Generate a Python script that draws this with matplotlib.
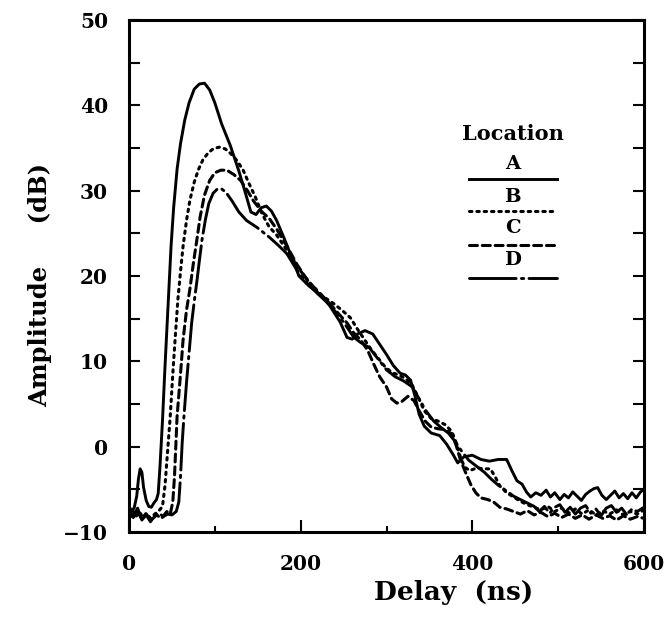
import matplotlib
matplotlib.use("Agg")
import matplotlib.pyplot as plt
from matplotlib.ticker import MultipleLocator

# ---------------- data ----------------
a_x = [0, 3, 6, 9, 11, 13, 15, 17, 20, 23, 26, 29, 32, 34, 36, 39, 42, 45, 47, 49, 52, 56, 60, 65, 70, 76, 82, 88, 94, 100,
       108, 118, 128, 136, 142, 148, 154, 160, 166, 172, 180, 188, 198, 210, 222, 234, 246, 254, 260, 266, 275, 284, 292,
       300, 308, 316, 322, 328, 333, 338, 344, 352, 362, 370, 378, 383, 390, 400, 410, 420, 430, 440, 446, 452, 458, 463,
       468, 474, 480, 486, 491, 496, 502, 507, 512, 517, 522, 527, 532, 537, 542, 546, 551, 556, 561, 566, 571, 576, 581,
       586, 591, 596, 600]
a_y = [-7.0, -7.5, -7.2, -5.8, -3.8, -2.6, -3.0, -4.8, -6.3, -7.0, -7.1, -6.6, -6.2, -5.5, -2.5, 3.0, 9.5, 15.5, 19.5,
       23.5, 28.0, 32.5, 35.5, 38.3, 40.3, 41.9, 42.5, 42.6, 41.8, 40.3, 37.8, 35.3, 32.3, 29.6, 27.5, 27.2, 28.0, 28.2,
       27.6, 26.5, 24.6, 22.6, 20.0, 18.8, 17.9, 16.5, 14.6, 12.8, 12.6, 13.2, 13.6, 13.2, 12.0, 10.8, 9.5, 8.6, 8.4, 7.8,
       6.0, 3.8, 2.4, 1.6, 1.3, 0.3, -1.0, -1.9, -1.2, -1.0, -1.5, -1.7, -1.5, -1.5, -2.8, -4.0, -4.4, -5.3, -5.9, -5.4,
       -5.7, -5.1, -5.9, -5.4, -6.2, -5.6, -6.0, -5.3, -5.8, -6.3, -5.6, -5.2, -4.9, -4.8, -5.7, -6.2, -5.7, -5.2, -6.0,
       -5.5, -6.1, -5.4, -6.0, -5.3, -5.0]

b_x = [0, 4, 8, 12, 16, 20, 25, 30, 35, 39, 42, 45, 48, 51, 54, 57, 60, 63, 67, 71, 76, 81, 86, 92, 98, 105, 112, 118,
       126, 133, 140, 147, 155, 163, 172, 182, 192, 202, 214, 226, 238, 248, 258, 266, 274, 282, 290, 298, 306, 314, 322,
       330, 337, 344, 352, 360, 368, 376, 381, 386, 391, 397, 405, 414, 421, 427, 432, 440, 448, 456, 464, 472, 480, 488,
       496, 504, 512, 520, 528, 536, 544, 552, 560, 568, 576, 584, 592, 600]
b_y = [-8.0, -7.4, -8.2, -7.6, -8.3, -7.8, -8.4, -7.9, -7.5, -7.0, -4.5, -0.5, 3.5, 8.5, 13.0, 17.3, 20.5, 23.5, 26.5,
       28.9, 31.0, 32.5, 33.6, 34.4, 34.9, 35.1, 34.9, 34.4, 33.5, 32.4, 30.8, 29.3, 27.3, 25.8, 24.8, 23.3, 21.8, 20.3,
       18.8, 17.6, 16.8, 16.0, 15.1, 13.8, 12.6, 11.4, 10.4, 9.4, 8.7, 8.4, 8.0, 7.2, 5.8, 4.2, 3.3, 3.0, 2.6, 1.8, 0.5,
       -1.2, -2.4, -2.8, -2.5, -2.6, -2.6, -3.6, -4.6, -5.4, -5.9, -6.4, -6.8, -7.1, -7.4, -7.0, -7.6, -7.2, -7.8, -7.3,
       -7.9, -7.4, -8.0, -7.5, -7.9, -7.4, -8.0, -7.6, -7.9, -7.4]

c_x = [0, 5, 10, 15, 20, 26, 32, 38, 44, 48, 51, 53, 56, 60, 63, 67, 71, 75, 79, 83, 88, 94, 100, 107, 114, 122, 130,
       138, 145, 155, 163, 172, 184, 196, 208, 220, 232, 244, 254, 262, 270, 278, 285, 292, 300, 306, 312, 318, 325, 332,
       338, 345, 352, 360, 368, 376, 381, 386, 392, 398, 404, 410, 418, 425, 432, 440, 448, 456, 464, 472, 480, 488, 496,
       504, 512, 520, 528, 536, 544, 552, 560, 568, 576, 584, 592, 600]
c_y = [-7.8, -8.3, -7.6, -8.5, -7.9, -8.6, -8.0, -8.4, -7.6, -7.9, -6.5, -3.5, 3.5, 8.5, 12.5, 16.0, 18.5, 21.5, 24.2,
       27.0, 29.5, 31.2, 32.1, 32.4, 32.4, 31.9, 31.2, 30.0, 28.8, 27.5, 26.8, 25.5, 23.5, 21.3, 19.5, 18.2, 17.0, 15.6,
       14.5, 13.3, 12.5, 11.3, 9.7, 8.2, 7.0, 5.6, 5.1, 5.3, 5.9, 5.4, 4.2, 3.0, 2.3, 2.1, 2.0, 1.5, 0.2, -1.5, -3.0,
       -4.4, -5.4, -6.0, -6.2, -6.5, -7.1, -7.3, -7.6, -7.9, -7.5, -8.0, -7.7, -8.2, -7.8, -8.3, -7.9, -8.4, -8.0, -8.5,
       -8.0, -8.4, -8.1, -8.6, -8.1, -8.5, -8.2, -8.4]

d_x = [0, 5, 10, 15, 20, 25, 30, 35, 40, 45, 50, 55, 58, 60, 62, 64, 67, 70, 73, 76, 79, 82, 85, 89, 93, 98, 103, 108,
       113, 120, 128, 137, 149, 164, 175, 184, 195, 207, 220, 232, 244, 254, 262, 270, 280, 290, 300, 310, 320, 330, 338,
       346, 355, 364, 372, 380, 388, 396, 405, 414, 422, 430, 440, 448, 456, 464, 472, 478, 484, 490, 496, 502, 508, 514,
       520, 526, 532, 538, 544, 550, 556, 562, 568, 574, 580, 586, 592, 600]
d_y = [-7.5, -8.2, -7.2, -8.6, -8.0, -8.8, -8.1, -7.8, -8.2, -7.9, -8.0, -7.6, -6.5, -3.5, 0.5, 3.5, 7.5, 11.0, 14.5,
       17.0, 19.3, 21.8, 24.2, 26.6, 28.5, 29.7, 30.2, 30.2, 29.8, 28.8, 27.5, 26.5, 25.7, 24.5, 23.5, 22.6, 20.8, 19.2,
       17.9, 16.8, 15.4, 14.0, 12.8, 12.2, 11.6, 10.3, 9.0, 8.2, 7.7, 7.0, 5.6, 4.2, 3.0, 2.2, 1.6, 0.6, -0.6, -1.6, -2.3,
       -3.0, -3.8, -4.5, -5.2, -5.8, -6.2, -6.6, -7.0, -7.6, -7.0, -7.8, -7.1, -6.8, -7.7, -7.1, -7.9, -7.2, -6.9, -7.8,
       -7.3, -8.1, -7.2, -6.9, -7.7, -7.2, -8.0, -7.3, -7.6, -7.1]

locations = ["A", "B", "C", "D"]
x_ticks = [0, 200, 400, 600]
y_ticks = [-10, 0, 10, 20, 30, 40, 50]

# ---------------- styling ----------------
plt.rcParams['font.family'] = ['DejaVu Serif']
plt.rcParams['font.weight'] = 'bold'

styles = {
    "A": dict(linestyle="-", lw=2.1),
    "B": dict(linestyle=(0, (0.8, 1.6)), lw=2.2),
    "C": dict(linestyle=(0, (2.6, 1.6)), lw=2.2),
    "D": dict(linestyle=(0, (16, 1.8, 0.8, 1.8)), lw=2.1),
}

fig = plt.figure(figsize=(6.69, 6.2), dpi=100)
ax = fig.add_axes([129 / 669, 1 - 532 / 620, (644 - 129) / 669, (532 - 20) / 620])

series = {"A": (a_x, a_y), "B": (b_x, b_y), "C": (c_x, c_y), "D": (d_x, d_y)}
for name in locations:
    xs, ys = series[name]
    ax.plot(xs, ys, color="black", solid_capstyle="round", dash_capstyle="round", **styles[name])

ax.set_xlim(0, 600)
ax.set_ylim(-10, 50)
ax.set_xticks(x_ticks)
ax.set_yticks(y_ticks)
ax.xaxis.set_minor_locator(MultipleLocator(100))
ax.yaxis.set_minor_locator(MultipleLocator(5))

for sp in ax.spines.values():
    sp.set_linewidth(2.2)

ax.tick_params(axis="x", which="major", direction="in", length=9, width=1.5, pad=16, labelsize=14.5)
ax.tick_params(axis="x", which="minor", direction="in", length=4.5, width=1.5)
ax.tick_params(axis="y", which="both", direction="in", length=8, width=1.5, pad=15, labelsize=14.5,
               right=True)
ax.tick_params(axis="y", which="both", labelright=False)

ax.set_yticklabels([("\u2212" + str(-v)) if v < 0 else str(v) for v in y_ticks])
for lab in ax.get_xticklabels() + ax.get_yticklabels():
    lab.set_fontweight("bold")

ax.set_xlabel("Delay  (ns)", fontsize=19, fontweight="bold", va="center")
ax.xaxis.set_label_coords(0.631, -0.118)
ax.set_ylabel("Amplitude     (dB)", fontsize=17.5, fontweight="bold", va="center")
ax.yaxis.set_label_coords(-0.173, 0.483)

# ---------------- legend (drawn as in the original) ----------------
ax.text(0.745, 0.778, "Location", transform=ax.transAxes, ha="center", va="center",
        fontsize=15, fontweight="bold")
text_y = [0.719, 0.655, 0.593, 0.531]
line_y = [0.690, 0.626, 0.561, 0.497]
for name, ty, ly in zip(locations, text_y, line_y):
    ax.text(0.745, ty, name, transform=ax.transAxes, ha="center", va="center",
            fontsize=14, fontweight="bold")
    ax.plot([0.66, 0.831], [ly, ly], transform=ax.transAxes, color="black",
            dash_capstyle="round", **styles[name])

fig.savefig("out.png", dpi=100)
